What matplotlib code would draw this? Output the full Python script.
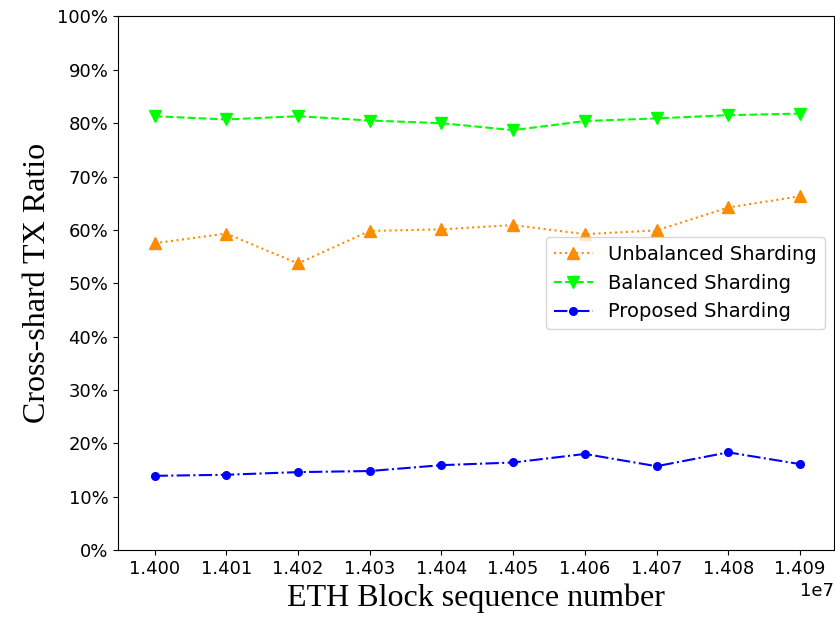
import numpy as np
import matplotlib
matplotlib.use('Agg')
import matplotlib.pyplot as plt
import matplotlib.ticker as mtick

# 区块序号
block_num = [14000000, 14010000, 14020000, 14030000, 14040000,
             14050000, 14060000, 14070000, 14080000, 14090000]

# 跨分片交易比例 (%)
unbalanced = [57.5, 59.3, 53.7, 59.8, 60.1, 60.9, 59.2, 59.9, 64.2, 66.3]
balanced = [81.3, 80.7, 81.3, 80.5, 80.0, 78.7, 80.4, 80.9, 81.5, 81.8]
proposed = [13.9, 14.1, 14.6, 14.8, 15.9, 16.4, 18.0, 15.7, 18.3, 16.1]

fig = plt.figure(figsize=(8.35, 6.24), dpi=100)
ax = fig.add_axes([0.1413, 0.1186, 0.858, 0.855])

ax.plot(block_num, unbalanced, ':', marker='^', markersize=9, color='#ff8c00', label='Unbalanced Sharding')
ax.plot(block_num, balanced, '--', marker='v', markersize=9, color='#00ff00', label='Balanced Sharding')
ax.plot(block_num, proposed, '-.', marker='.', markersize=11, color='blue', label='Proposed Sharding')

# 坐标轴设置
ax.set_xlim(13994900, 14094800)
ax.set_ylim(0, 100)
ax.set_xticks(block_num)
ax.set_yticks(np.arange(0, 101, 10))
ax.ticklabel_format(axis='x', useOffset=False)
ax.yaxis.set_major_formatter(mtick.PercentFormatter(xmax=100, decimals=0))
ax.tick_params(labelsize=13)
ax.xaxis.get_offset_text().set_fontsize(13)

ax.set_xlabel('ETH Block sequence number', family='Liberation Serif', fontsize=23)
ax.set_ylabel('Cross-shard TX Ratio', family='Liberation Serif', fontsize=23)

ax.legend(loc='center right', fontsize=14)

plt.savefig('out.png', dpi=100)
